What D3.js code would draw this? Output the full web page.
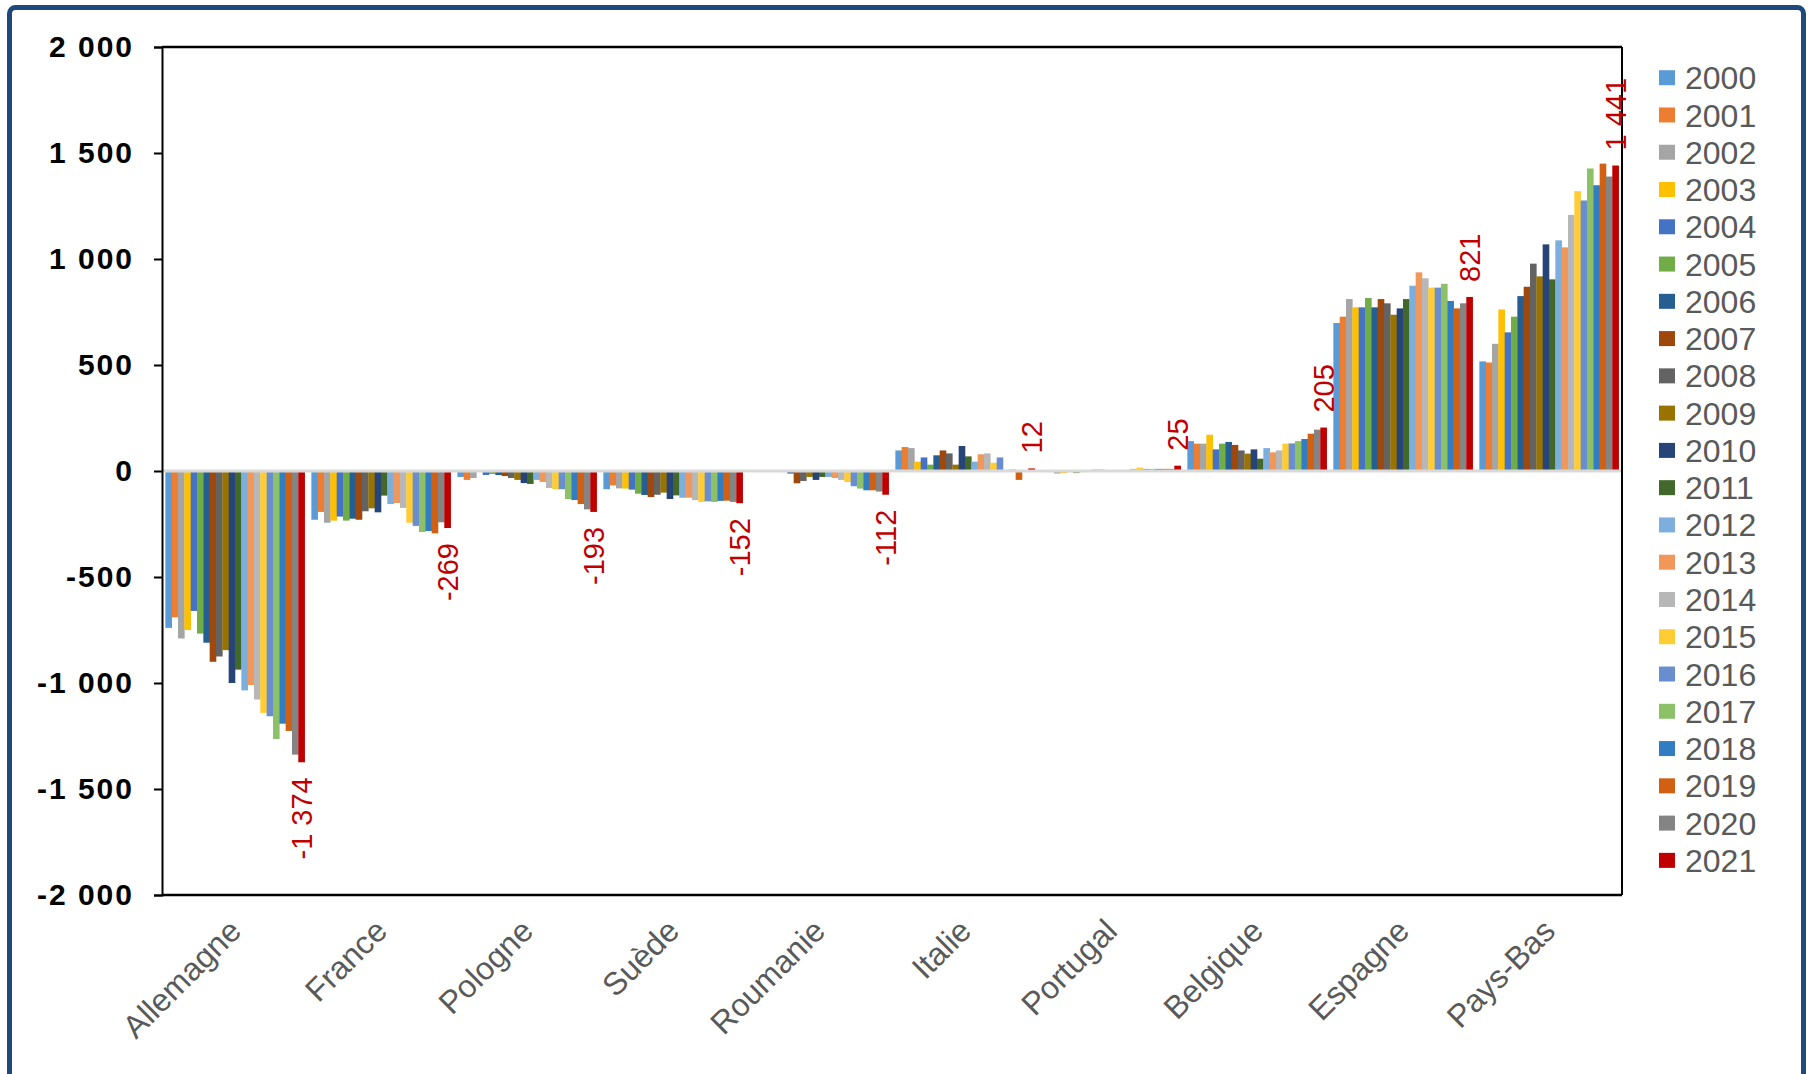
<!DOCTYPE html>
<html>
<head>
<meta charset="utf-8">
<script src="https://cdn.jsdelivr.net/npm/d3@7"></script>
<style>
  html, body { margin: 0; padding: 0; background: #ffffff; }
  svg { display: block; }
  text { font-family: "Liberation Sans", Arial, sans-serif; }
</style>
</head>
<body>
<svg id="chart" width="1808" height="1074"></svg>
<script>
// ---------- DATA ----------
const categories = ["Allemagne", "France", "Pologne", "Suède", "Roumanie", "Italie", "Portugal", "Belgique", "Espagne", "Pays-Bas"];
const years = ["2000","2001","2002","2003","2004","2005","2006","2007","2008","2009","2010","2011","2012","2013","2014","2015","2016","2017","2018","2019","2020","2021"];
const yTicks = [-2000, -1500, -1000, -500, 0, 500, 1000, 1500, 2000];

const allemagne = [-740,-690,-790,-750,-660,-767,-810,-900,-875,-845,-1000,-937,-1035,-1010,-1078,-1141,-1157,-1264,-1192,-1226,-1338,-1374];
const france    = [-230,-193,-244,-234,-215,-234,-225,-230,-190,-176,-195,-116,-156,-151,-174,-244,-259,-288,-283,-294,-242,-269];
const pologne   = [-28,-42,-33,-3,-19,-14,-19,-24,-33,-42,-57,-61,-42,-52,-80,-86,-86,-132,-137,-156,-181,-193];
const suede     = [-86,-68,-82,-83,-88,-107,-113,-123,-112,-102,-132,-115,-126,-126,-137,-146,-143,-146,-141,-140,-146,-152];
const roumanie  = [-2,-4,-2,0,-2,-5,-12,-58,-47,-28,-42,-28,-28,-33,-42,-52,-72,-83,-91,-91,-97,-112];
const italie    = [97,113,108,44,64,30,74,97,83,30,118,69,44,79,83,39,64,0,6,-42,0,12];
const portugal  = [-5,-5,-12,-10,-5,-10,-5,0,6,6,0,0,5,0,10,16,10,10,10,10,10,25];
const belgique  = [141,129,129,171,102,129,137,123,97,82,102,58,108,88,97,129,130,141,151,176,195,205];
const espagne   = [698,728,811,772,772,816,772,811,791,737,767,811,874,937,909,865,865,883,802,767,791,821];
const paysBas   = [517,512,600,762,654,728,825,869,978,918,1069,904,1088,1055,1208,1320,1276,1427,1348,1450,1389,1441];

const seriesByCountry = [allemagne, france, pologne, suede, roumanie, italie, portugal, belgique, espagne, paysBas];

// ---------- STYLE ----------
const colors = ["#5B9BD5","#ED7D31","#A5A5A5","#FFC000","#4472C4","#70AD47","#255E91","#9E480E","#636363","#997300","#264478","#43682B","#7CAFDD","#F1975A","#B7B7B7","#FFCD33","#698ED0","#8CC168","#327DC2","#D26012","#848484","#C00000"];

const svg = d3.select("#chart");
const plot = { left: 162, right: 1622, top: 47, bottom: 895 };

const fmt = v => {
  const s = Math.abs(v).toString().replace(/\B(?=(\d{3})+(?!\d))/g, " ");
  return (v < 0 ? "-" : "") + s;
};

// outer border
svg.append("rect")
  .attr("x", 9.5).attr("y", 7.5)
  .attr("width", 1794).attr("height", 1120)
  .attr("rx", 6)
  .attr("fill", "#ffffff")
  .attr("stroke", "#1F497D")
  .attr("stroke-width", 5);

const x0 = d3.scaleBand().domain(categories).range([plot.left, plot.right]).paddingInner(0.046).paddingOuter(0.023);
const x1 = d3.scaleBand().domain(years).range([0, x0.bandwidth()]).padding(0);
const y = d3.scaleLinear().domain([-2000, 2000]).range([plot.bottom, plot.top]);
const color = d3.scaleOrdinal().domain(years).range(colors);

// bars
const rows = categories.map((c, i) => ({ cat: c, vals: years.map((yr, j) => ({ yr, v: seriesByCountry[i][j] })) }));
const groups = svg.append("g").selectAll("g").data(rows).join("g")
  .attr("transform", d => `translate(${x0(d.cat)},0)`);
groups.selectAll("rect").data(d => d.vals).join("rect")
  .attr("x", d => x1(d.yr))
  .attr("width", x1.bandwidth() + 0.3)
  .attr("y", d => Math.min(y(d.v), y(0)))
  .attr("height", d => Math.abs(y(d.v) - y(0)))
  .attr("fill", d => color(d.yr));

// zero line
svg.append("line")
  .attr("x1", plot.left).attr("x2", plot.right)
  .attr("y1", y(0)).attr("y2", y(0))
  .attr("stroke", "#D9D9D9").attr("stroke-width", 3);

// plot frame
const frame = svg.append("g").attr("stroke", "#000").attr("fill", "none");
frame.append("line").attr("x1", plot.left).attr("x2", plot.right).attr("y1", plot.top).attr("y2", plot.top).attr("stroke-width", 2.5);
frame.append("line").attr("x1", plot.right).attr("x2", plot.right).attr("y1", plot.top).attr("y2", plot.bottom).attr("stroke-width", 2);
frame.append("line").attr("x1", plot.left).attr("x2", plot.right).attr("y1", plot.bottom).attr("y2", plot.bottom).attr("stroke-width", 2.5);

// y axis
const yAxis = d3.axisLeft(y).tickValues(yTicks).tickSize(8).tickPadding(20).tickFormat(fmt);
const gy = svg.append("g").attr("transform", `translate(${plot.left},0)`).call(yAxis);
gy.select(".domain").attr("stroke", "#000").attr("stroke-width", 2);
gy.selectAll(".tick line").attr("stroke", "#000").attr("stroke-width", 2);
gy.selectAll(".tick text")
  .attr("fill", "#000")
  .attr("font-size", 30)
  .attr("font-weight", "bold")
  .attr("letter-spacing", 2)
  .attr("font-family", "'Liberation Sans', Arial, sans-serif");

// category labels
const xAxis = d3.axisBottom(x0).tickSize(0).tickPadding(0);
const gx = svg.append("g").attr("transform", `translate(0,${plot.bottom})`).call(xAxis);
gx.select(".domain").remove();
gx.selectAll(".tick text")
  .attr("fill", "#595959")
  .attr("font-size", 32)
  .attr("font-family", "'Liberation Sans', Arial, sans-serif")
  .attr("text-anchor", "end")
  .attr("dy", null)
  .attr("y", null)
  .attr("transform", "translate(8,38) rotate(-45)");

// data labels for 2021
const last = years.length - 1;
svg.append("g").selectAll("text").data(rows).join("text")
  .attr("transform", d => {
    const v = d.vals[last].v;
    const cx = x0(d.cat) + x1(years[last]) + x1.bandwidth() / 2;
    const yy = v >= 0 ? y(v) - 15 : y(v) + 15;
    return `translate(${cx},${yy}) rotate(-90)`;
  })
  .attr("text-anchor", d => d.vals[last].v >= 0 ? "start" : "end")
  .attr("dy", "0.35em")
  .attr("fill", "#C00000")
  .attr("font-size", 29)
  .text(d => fmt(d.vals[last].v));

// legend
const legend = svg.append("g").selectAll("g").data(years).join("g")
  .attr("transform", (d, i) => `translate(1659,${77.7 + i * 37.27})`);
legend.append("rect").attr("x", 0).attr("y", -7.5).attr("width", 16).attr("height", 15).attr("fill", d => color(d));
legend.append("text").attr("x", 26).attr("dy", "0.36em")
  .attr("fill", "#595959").attr("font-size", 32)
  .text(d => d);
</script>
</body>
</html>
